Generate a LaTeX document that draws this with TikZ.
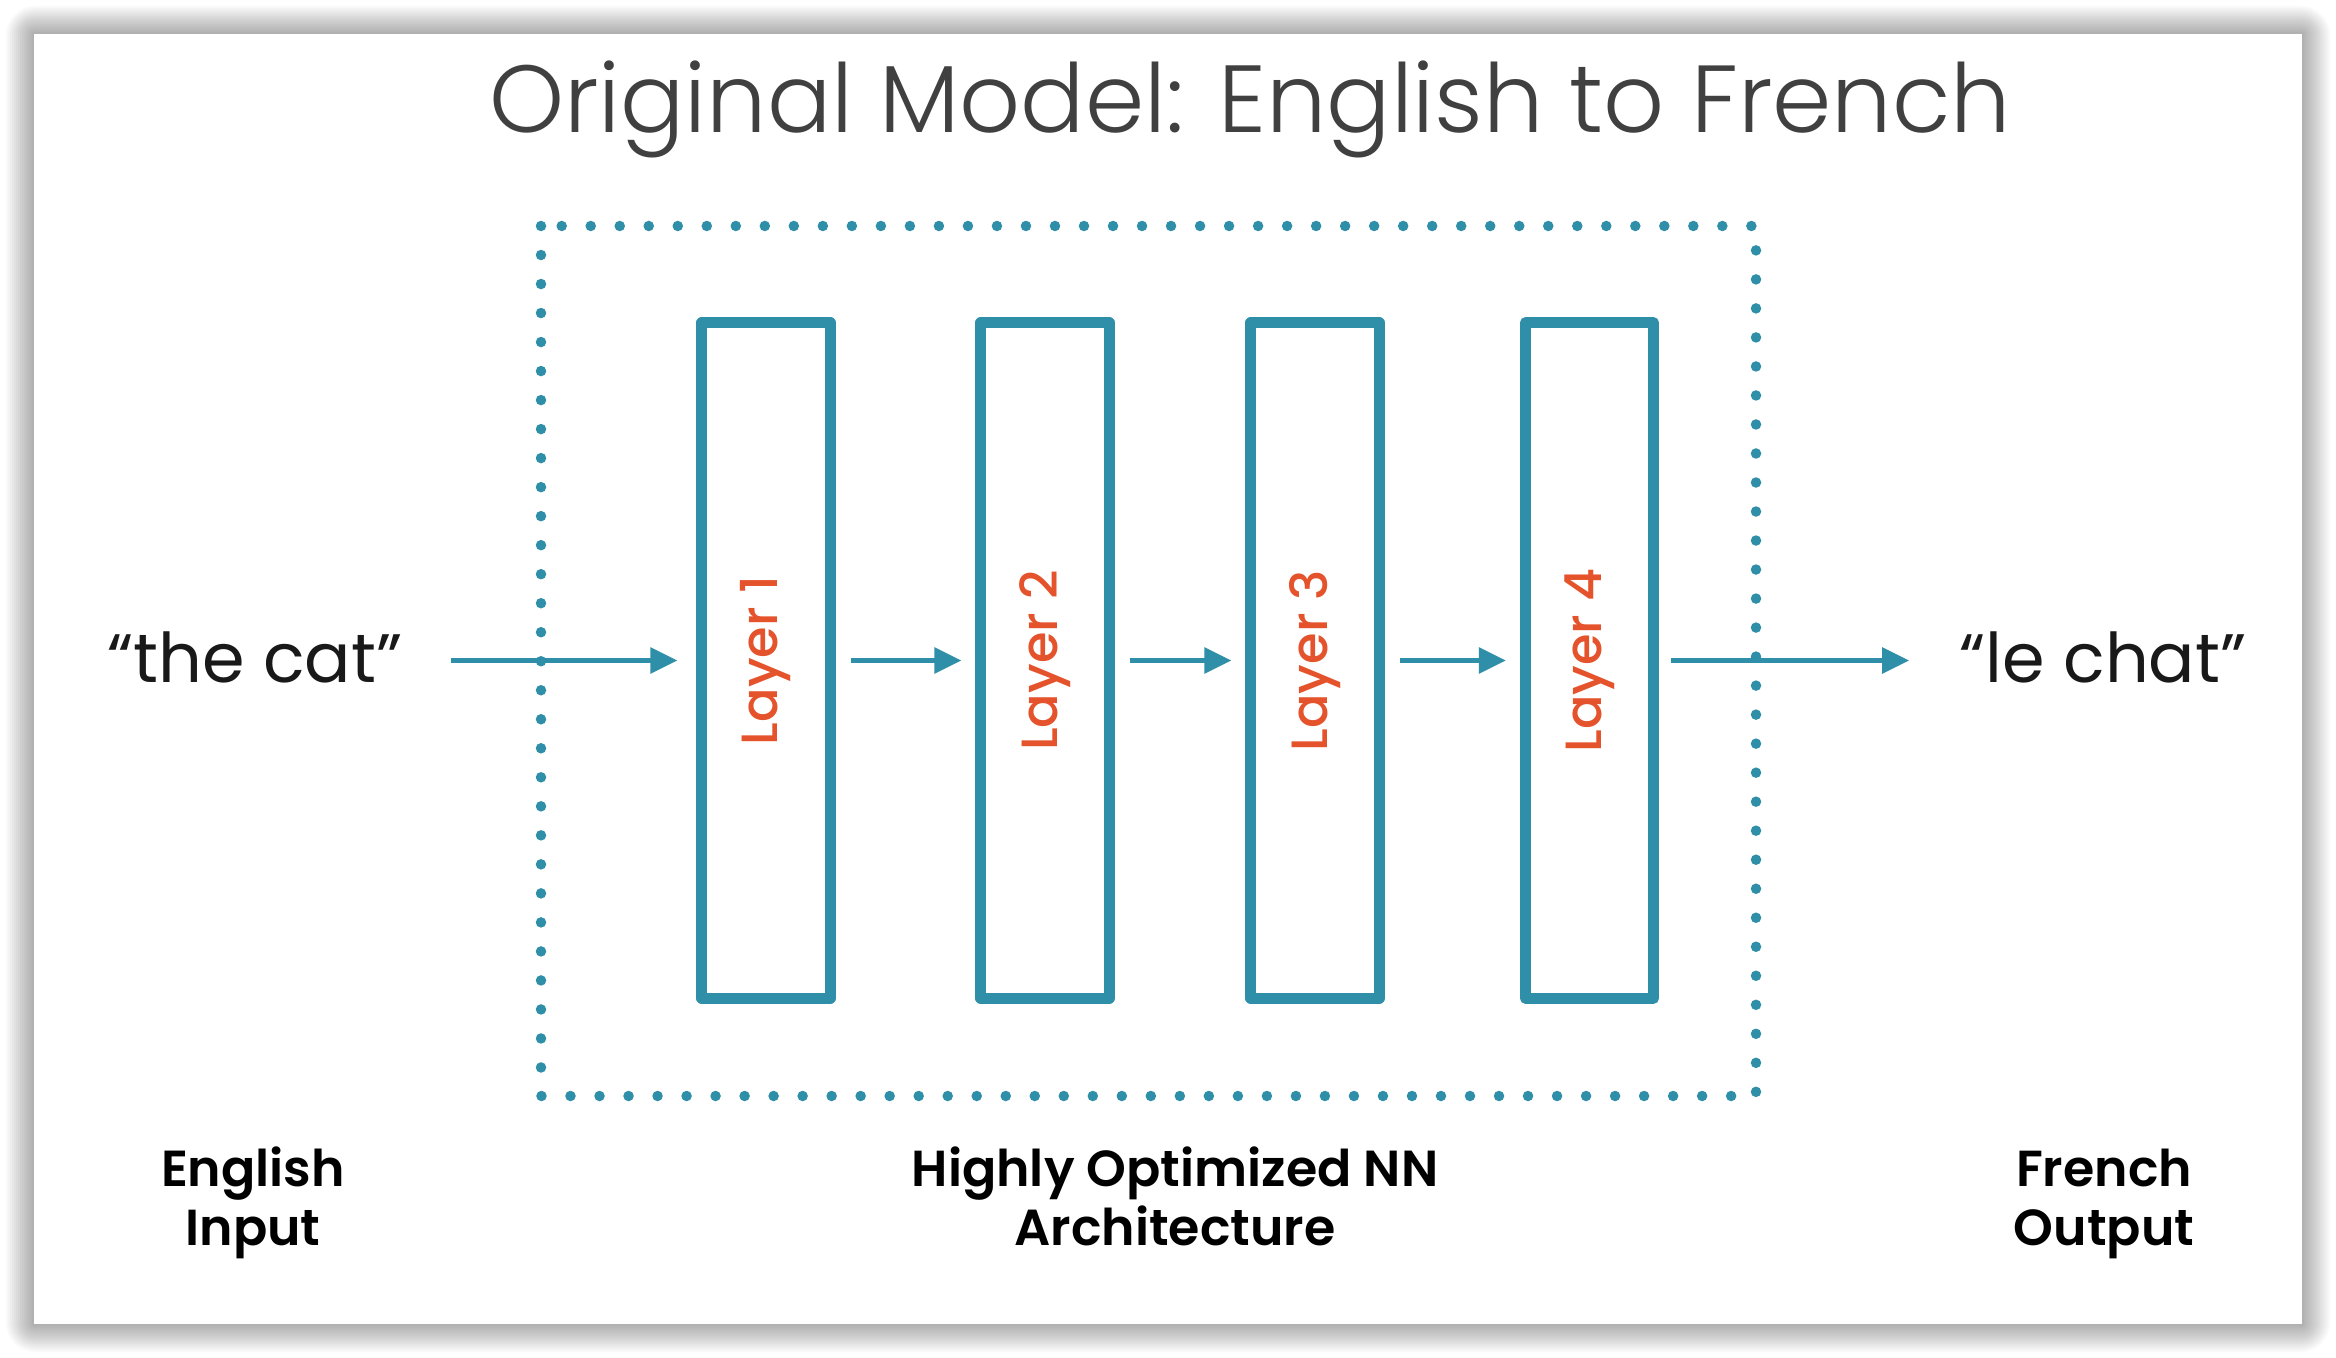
\documentclass[tikz,border=0pt]{standalone}
\usepackage{fontspec}
\setmainfont{Poppins}
\IfFontExistsTF{Poppins Light}{\newfontfamily\thinfont{Poppins Light}}{\newfontfamily\thinfont{Poppins}}
\IfFontExistsTF{Poppins Medium}{\newfontfamily\midfont{Poppins Medium}}{\newfontfamily\midfont{Poppins}[FakeBold=1]}
\IfFontExistsTF{Poppins SemiBold}{\newfontfamily\capfont{Poppins SemiBold}}{\let\capfont\midfont}
\usetikzlibrary{arrows.meta}
\definecolor{layerblue}{RGB}{47,143,168}
\definecolor{layerred}{RGB}{228,83,43}
\definecolor{titlegray}{RGB}{64,64,64}
\begin{document}
\begin{tikzpicture}[x=0.01cm,y=-0.01cm,line join=round,
	layerbox/.style={draw=layerblue,line width=0.11cm,minimum width=1.28cm,minimum height=6.75cm,inner sep=0pt,text=layerred,font=\midfont\fontsize{14.5}{17}\selectfont},
	flow/.style={layerblue,line width=0.055cm,-{Triangle[length=0.27cm,width=0.25cm]}},
	word/.style={anchor=base,text=black!90,font=\fontsize{19.5}{23}\selectfont},
	caption/.style={anchor=base,align=center,font=\capfont\fontsize{14.4}{16.5}\selectfont}]
	\useasboundingbox (0,0) rectangle (2336,1358);
	\fill[white] (0,0) rectangle (2336,1358);
	\foreach \s in {1,...,14}
		\fill[black,opacity=0.025,rounded corners=\s*0.6pt] (34-2*\s,34-2*\s) rectangle (2302+2*\s,1324+2*\s);
	\fill[white] (34,34) rectangle (2302,1324);
	\node[anchor=base,text=titlegray,font=\thinfont\fontsize{27.1}{33}\selectfont] (title) at (1250,133) {Original Model: English to French};
	\draw[layerblue,line width=0.105cm,line cap=round,dash pattern=on 0pt off 0.29cm] (541,226) rectangle (1756,1096);
	\node[layerbox] (l1) at (766,660.5) {\rotatebox{90}{Layer 1}};
	\node[layerbox] (l2) at (1045,660.5) {\rotatebox{90}{Layer 2}};
	\node[layerbox] (l3) at (1315,660.5) {\rotatebox{90}{Layer 3}};
	\node[layerbox] (l4) at (1589.5,660.5) {\rotatebox{90}{Layer 4}};
	\node[word] (src) at (255,682) {“the cat”};
	\node[word] (tgt) at (2103,682) {“le chat”};
	\draw[flow,shorten <=0.36cm,shorten >=0.19cm] (l1.west -| src.east) -- (l1.west);
	\draw[flow,shorten <=0.15cm,shorten >=0.14cm] (l1) -- (l2);
	\draw[flow,shorten <=0.15cm,shorten >=0.14cm] (l2) -- (l3);
	\draw[flow,shorten <=0.15cm,shorten >=0.14cm] (l3) -- (l4);
	\draw[flow,shorten <=0.12cm,shorten >=0.38cm] (l4) -- (l4.east -| tgt.west);
	\node[caption] (inp) at (253,1245) {English\\Input};
	\node[caption] (arch) at (1175,1245) {Highly Optimized NN\\Architecture};
	\node[caption] (out) at (2104,1245) {French\\Output};
\end{tikzpicture}
\end{document}
